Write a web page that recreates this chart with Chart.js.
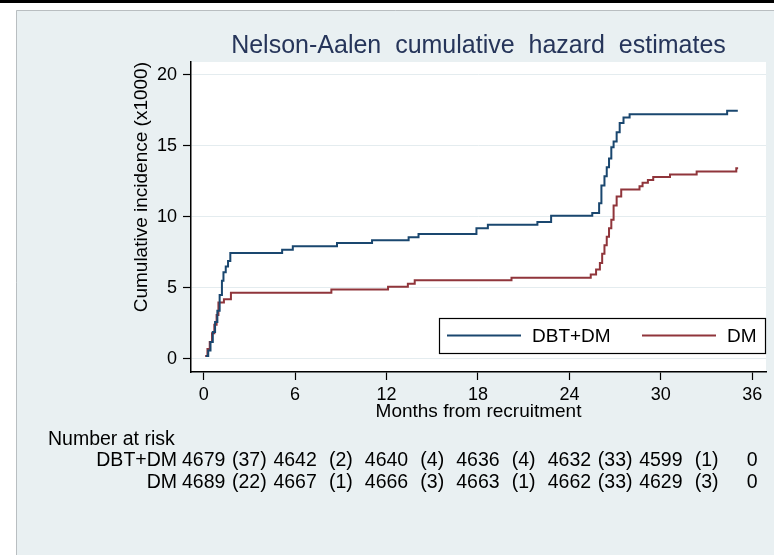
<!DOCTYPE html>
<html>
<head>
<meta charset="utf-8">
<title>Nelson-Aalen cumulative hazard estimates</title>
<script src="https://cdn.jsdelivr.net/npm/chart.js@4.4.1/dist/chart.umd.min.js"></script>
<style>
html, body { margin: 0; padding: 0; background: #fff; }
#wrap { width: 774px; height: 555px; }
</style>
</head>
<body>
<div id="wrap"><canvas id="myChart" width="774" height="555"></canvas></div>
<script>
// step points (months, cumulative hazard x1000)
var dbtdmMonths = [0.15, 0.3, 0.45, 0.6, 0.75, 0.9, 1.05, 1.2, 1.3, 1.45, 1.6, 1.75, 5.15, 5.85, 8.75, 11.05, 13.45, 14.1, 17.9, 18.65, 21.9, 22.8, 25.5, 25.95, 26.1, 26.3, 26.45, 26.6, 26.75, 26.9, 27.1, 27.3, 27.55, 27.95, 34.35, 35.05];
var dbtdmHazard = [0.2, 0.6, 1.2, 1.9, 2.6, 3.4, 4.5, 5.5, 6.1, 6.5, 6.9, 7.45, 7.68, 7.93, 8.16, 8.36, 8.57, 8.79, 9.2, 9.44, 9.64, 10.07, 10.27, 10.95, 12.2, 12.85, 13.5, 14.1, 14.9, 15.3, 15.95, 16.6, 17.0, 17.23, 17.46, 17.46];
var dmMonths = [0.1, 0.25, 0.4, 0.55, 0.7, 0.85, 0.97, 1.33, 1.79, 8.38, 12.1, 13.4, 13.85, 20.2, 25.4, 25.75, 26.0, 26.15, 26.3, 26.45, 26.6, 26.75, 26.9, 27.1, 27.4, 28.6, 28.8, 29.15, 29.5, 30.6, 32.35, 34.95, 35.07];
var dmHazard = [0.2, 0.7, 1.2, 1.8, 2.4, 3.1, 3.97, 4.2, 4.66, 4.88, 5.08, 5.3, 5.53, 5.72, 5.95, 6.3, 6.75, 7.4, 8.0, 8.6, 9.2, 9.8, 10.8, 11.43, 11.92, 12.15, 12.4, 12.6, 12.8, 12.99, 13.2, 13.43, 13.43];

var xTicks = [0, 6, 12, 18, 24, 30, 36];
var yTicks = [0, 5, 10, 15, 20];

// number at risk table
var riskTimes = [0, 6, 12, 18, 24, 30, 36];
var dbtdmAtRisk = [4679, 4642, 4640, 4636, 4632, 4599, 0];
var dbtdmEvents = [37, 2, 4, 4, 33, 1];
var dmAtRisk = [4689, 4667, 4666, 4663, 4662, 4629, 0];
var dmEvents = [22, 1, 3, 1, 33, 3];

function toPoints(xs, ys) {
    return xs.map(function (x, i) { return { x: x, y: ys[i] }; });
}

var FONT = "'Liberation Sans', Arial, sans-serif";
Chart.defaults.font.family = FONT;
Chart.defaults.color = '#000';

// light blue graph region, white plot region
var frame = {
    id: 'frame',
    beforeDraw: function (chart) {
        var c = chart.ctx, a = chart.chartArea;
        c.save();
        c.fillStyle = '#fff';
        c.fillRect(0, 0, chart.width, chart.height);
        c.fillStyle = '#000';
        c.fillRect(0, 0, chart.width, 3);
        c.fillStyle = '#e9f0f2';
        c.fillRect(16, 10, chart.width - 16, chart.height - 10);
        c.strokeStyle = '#b9bec1';
        c.lineWidth = 1;
        c.beginPath();
        c.moveTo(16.5, chart.height);
        c.lineTo(16.5, 10.5);
        c.lineTo(chart.width, 10.5);
        c.stroke();
        c.fillStyle = '#fff';
        c.fillRect(a.left, a.top, a.right - a.left, a.bottom - a.top);
        c.restore();
    }
};

// legend box inside the plot, bottom right
var boxLegend = {
    id: 'boxLegend',
    afterDatasetsDraw: function (chart) {
        var c = chart.ctx, a = chart.chartArea;
        var right = a.right - 1, left = right - 326, bottom = a.bottom - 19, top = bottom - 35;
        var mid = (top + bottom) / 2;
        var ds = chart.data.datasets;
        var lineX = [left + 8, left + 203];
        c.save();
        c.fillStyle = '#fff';
        c.fillRect(left, top, right - left, bottom - top);
        c.strokeStyle = '#000';
        c.lineWidth = 1.2;
        c.strokeRect(left + 0.5, top + 0.5, right - left, bottom - top);
        c.font = '19px ' + FONT;
        c.textBaseline = 'middle';
        c.textAlign = 'left';
        for (var i = 0; i < ds.length; i++) {
            c.strokeStyle = ds[i].borderColor;
            c.lineWidth = 2;
            c.beginPath();
            c.moveTo(lineX[i], mid);
            c.lineTo(lineX[i] + 74, mid);
            c.stroke();
            c.fillStyle = '#000';
            c.fillText(ds[i].label, lineX[i] + 85, mid + 1);
        }
        c.restore();
    }
};

// number at risk below the x axis
var riskTable = {
    id: 'riskTable',
    afterDraw: function (chart) {
        var c = chart.ctx, x = chart.scales.x;
        var rows = [
            { label: chart.data.datasets[0].label, n: dbtdmAtRisk, ev: dbtdmEvents, y: 466 },
            { label: chart.data.datasets[1].label, n: dmAtRisk, ev: dmEvents, y: 488 }
        ];
        c.save();
        c.fillStyle = '#000';
        c.font = '19.5px ' + FONT;
        c.textBaseline = 'alphabetic';
        c.textAlign = 'left';
        c.fillText('Number at risk', 48, 445);
        rows.forEach(function (r) {
            c.textAlign = 'right';
            c.fillText(r.label, 177, r.y);
            c.textAlign = 'center';
            for (var i = 0; i < riskTimes.length; i++) {
                c.fillText(String(r.n[i]), x.getPixelForValue(riskTimes[i]), r.y);
                if (i < r.ev.length) {
                    var m = (riskTimes[i] + riskTimes[i + 1]) / 2;
                    c.fillText('(' + r.ev[i] + ')', x.getPixelForValue(m), r.y);
                }
            }
        });
        c.restore();
    }
};

var ctx = document.getElementById('myChart').getContext('2d');
var chart = new Chart(ctx, {
    type: 'line',
    data: {
        datasets: [{
            label: 'DBT+DM',
            data: toPoints(dbtdmMonths, dbtdmHazard),
            borderColor: '#1a476f',
            borderWidth: 2,
            stepped: 'before',
            pointRadius: 0,
            fill: false
        }, {
            label: 'DM',
            data: toPoints(dmMonths, dmHazard),
            borderColor: '#90353b',
            borderWidth: 2,
            stepped: 'before',
            pointRadius: 0,
            fill: false
        }]
    },
    options: {
        responsive: false,
        animation: false,
        layout: { padding: { left: 120, right: 8, top: 20, bottom: 123 } },
        plugins: {
            legend: { display: false },
            tooltip: { enabled: false },
            title: {
                display: true,
                text: 'Nelson-Aalen  cumulative  hazard  estimates',
                fullSize: false,
                color: '#26355a',
                font: { size: 25, weight: 'normal' },
                padding: { top: 11, bottom: 1 }
            }
        },
        scales: {
            x: {
                type: 'linear',
                min: -0.83,
                max: 36.9,
                afterBuildTicks: function (s) { s.ticks = xTicks.map(function (v) { return { value: v }; }); },
                afterFit: function (s) { s.height = 60; },
                grid: { drawOnChartArea: false, drawTicks: true, tickLength: 8, tickColor: '#000', tickWidth: 1.2 },
                border: { display: true, color: '#000', width: 1.5 },
                ticks: { font: { size: 18 }, padding: 4, maxRotation: 0 },
                title: { display: true, text: 'Months from recruitment', font: { size: 19 }, padding: { top: 0, bottom: 9 } }
            },
            y: {
                min: -0.92,
                max: 20.9,
                afterBuildTicks: function (s) { s.ticks = yTicks.map(function (v) { return { value: v }; }); },
                afterFit: function (s) { s.width = 71; },
                grid: { color: '#e4ecef', lineWidth: 1, drawTicks: true, tickLength: 8, tickColor: '#000', tickWidth: 1.2 },
                border: { display: true, color: '#000', width: 1.5 },
                ticks: { font: { size: 18 }, padding: 6 },
                title: { display: true, text: 'Cumulative incidence (x1000)', align: 'end', font: { size: 19 }, padding: { top: 10, bottom: 0 } }
            }
        }
    },
    plugins: [frame, boxLegend, riskTable]
});
</script>
</body>
</html>
